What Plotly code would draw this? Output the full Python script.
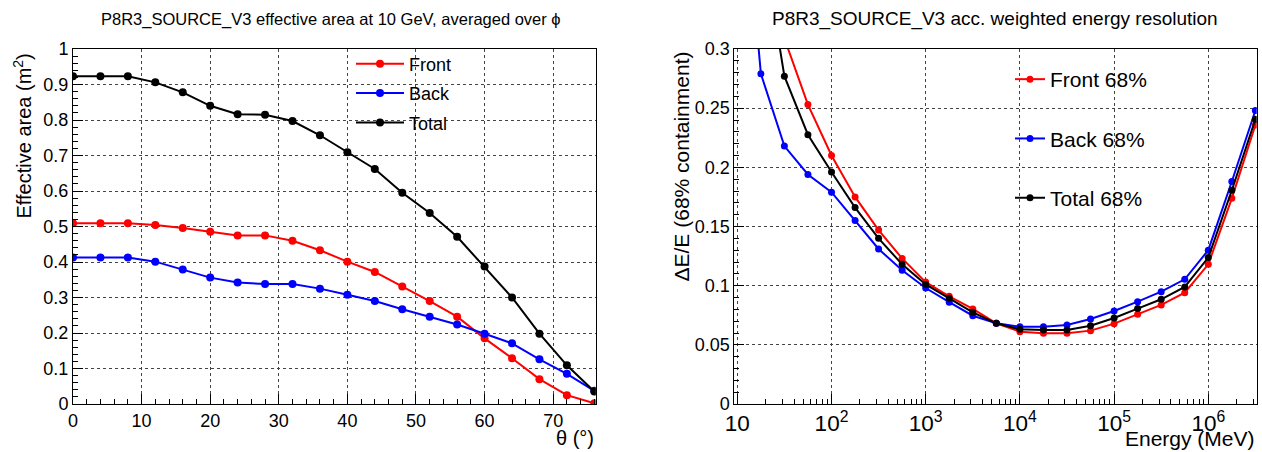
import plotly.graph_objects as go

# ---------------- data ----------------
theta = [0, 4, 8, 12, 16, 20, 24, 28, 32, 36, 40, 44, 48, 52, 56, 60, 64, 68, 72, 76]
front_area = [0.509, 0.509, 0.509, 0.504, 0.496, 0.485, 0.475, 0.475, 0.460, 0.433,
              0.401, 0.372, 0.331, 0.290, 0.246, 0.185, 0.129, 0.070, 0.025, 0.002]
back_area = [0.413, 0.413, 0.413, 0.401, 0.379, 0.356, 0.342, 0.338, 0.338, 0.325,
             0.308, 0.290, 0.267, 0.246, 0.224, 0.198, 0.171, 0.126, 0.085, 0.037]
total_area = [0.923, 0.923, 0.923, 0.906, 0.878, 0.840, 0.816, 0.815, 0.797, 0.757,
              0.709, 0.662, 0.595, 0.538, 0.471, 0.387, 0.300, 0.198, 0.109, 0.035]

energy = [10, 17.8, 31.6, 56.2, 100, 178, 316, 562, 1000, 1778, 3162, 5623,
          10000, 17783, 31623, 56234, 100000, 177828, 316228, 562341,
          1000000, 1778279, 3162278]
front_res = [None, None, 0.309, 0.253, 0.210, 0.175, 0.147, 0.123, 0.103, 0.0910,
             0.0803, 0.0682, 0.0611, 0.0597, 0.0597, 0.0620, 0.0679, 0.0758,
             0.0837, 0.0941, 0.118, 0.1738, 0.2358]
back_res = [0.50, 0.279, 0.218, 0.194, 0.179, 0.155, 0.131, 0.113, 0.098, 0.0860,
            0.0746, 0.0682, 0.0653, 0.0653, 0.0668, 0.0718, 0.0786, 0.0865,
            0.0949, 0.1054, 0.130, 0.188, 0.248]
total_res = [None, 0.40, 0.277, 0.2276, 0.196, 0.166, 0.140, 0.118, 0.101, 0.0893,
             0.0775, 0.0682, 0.0631, 0.0625, 0.0625, 0.0662, 0.0727, 0.0806,
             0.0885, 0.0989, 0.1237, 0.1806, 0.2406]

area_names = ["Front", "Back", "Total"]
res_names = ["Front 68%", "Back 68%", "Total 68%"]
colors = ["#ff0000", "#0000ff", "#000000"]

# ---------------- figure ----------------
W, H = 1262, 452
FONT = "Liberation Sans, Arial, Helvetica, sans-serif"

fig = go.Figure()

for name, ys, c in zip(area_names, [front_area, back_area, total_area], colors):
    fig.add_trace(go.Scatter(
        x=theta, y=ys, name=name, mode="lines+markers",
        line=dict(color=c, width=2), marker=dict(color=c, size=8),
        xaxis="x", yaxis="y", legend="legend", legendgroup="a" + name,
    ))

for name, ys, c in zip(res_names, [front_res, back_res, total_res], colors):
    fig.add_trace(go.Scatter(
        x=energy, y=ys, name=name, mode="lines+markers",
        line=dict(color=c, width=2), marker=dict(color=c, size=7),
        xaxis="x2", yaxis="y2", legend="legend2", legendgroup="r" + name,
    ))

def px_x(p):
    return p / W

def px_y(p):
    return 1 - p / H

ydom = [px_y(404), px_y(49)]
tickfont = dict(family=FONT, size=18, color="black")
common = dict(
    showline=True, linecolor="black", linewidth=1, mirror=True,
    ticks="inside", ticklen=10, tickcolor="black", tickwidth=1,
    showgrid=True, gridcolor="#444444", griddash="dot", gridwidth=1,
    zeroline=False, tickfont=tickfont, automargin=False,
)

fig.update_layout(
    width=W, height=H, margin=dict(l=0, r=0, t=0, b=0, pad=0, autoexpand=False),
    paper_bgcolor="white", plot_bgcolor="white",
    font=dict(family=FONT, color="black"),
    xaxis=dict(domain=[px_x(73), px_x(595.7)], range=[0, 76.2], dtick=10, tick0=0,
               anchor="y",
               minor=dict(ticks="inside", ticklen=5, dtick=2, tickcolor="black", showgrid=False),
               **common),
    yaxis=dict(domain=ydom, range=[0, 1], dtick=0.1, tick0=0, anchor="x",
               minor=dict(ticks="inside", ticklen=5, dtick=0.02, tickcolor="black", showgrid=False),
               **common),
    xaxis2=dict(domain=[px_x(734.3), px_x(1256.7)], type="log", range=[0.968, 6.514],
                dtick=1, exponentformat="power", anchor="y2",
                minor=dict(ticks="inside", ticklen=5, dtick="D1", tickcolor="black", showgrid=False),
                **common),
    yaxis2=dict(domain=ydom, range=[0, 0.3], dtick=0.05, tick0=0, anchor="x2",
                minor=dict(ticks="inside", ticklen=5, dtick=0.01, tickcolor="black", showgrid=False),
                **common),
    legend=dict(x=px_x(351), y=px_y(45.5), xanchor="left", yanchor="top",
                font=dict(family=FONT, size=18, color="black"), itemwidth=48,
                bgcolor="rgba(0,0,0,0)", traceorder="grouped", tracegroupgap=3),
    legend2=dict(x=px_x(1010), y=px_y(59), xanchor="left", yanchor="top",
                 font=dict(family=FONT, size=21, color="black"),
                 bgcolor="rgba(0,0,0,0)", traceorder="grouped", tracegroupgap=29),
    showlegend=True,
)

ann = [
    dict(text="P8R3_SOURCE_V3 effective area at 10 GeV, averaged over ϕ",
         x=px_x(331), y=px_y(19), xanchor="center", yanchor="middle",
         font=dict(size=16.5)),
    dict(text="P8R3_SOURCE_V3 acc. weighted energy resolution",
         x=px_x(995), y=px_y(19), xanchor="center", yanchor="middle",
         font=dict(size=19)),
    dict(text="Effective area (m<sup>2</sup>)", textangle=-90,
         x=px_x(22), y=px_y(136.5), xanchor="center", yanchor="middle",
         font=dict(size=20)),
    dict(text="θ (°)", x=px_x(596), y=px_y(438), xanchor="right", yanchor="middle",
         font=dict(size=20)),
    dict(text="ΔE/E (68% containment)", textangle=-90,
         x=px_x(681), y=px_y(166.5), xanchor="center", yanchor="middle",
         font=dict(size=21)),
    dict(text="Energy (MeV)", x=px_x(1257), y=px_y(438), xanchor="right", yanchor="middle",
         font=dict(size=21)),
]
for a in ann:
    a.update(xref="paper", yref="paper", showarrow=False)
    a["font"].update(family=FONT, color="black")
fig.update_layout(annotations=ann)

fig.write_html("out.html")
